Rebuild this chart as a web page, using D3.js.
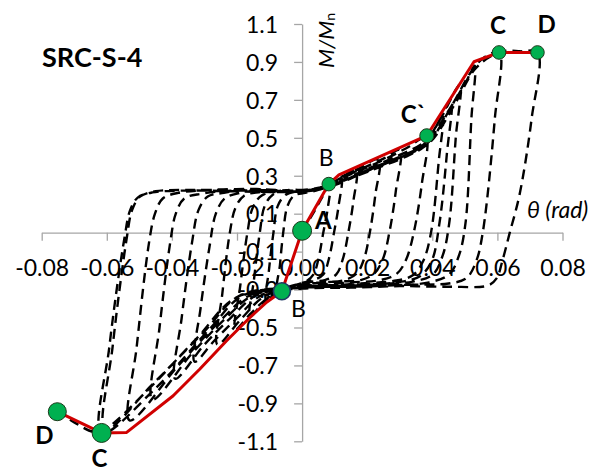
<!DOCTYPE html>
<html>
<head>
<meta charset="utf-8">
<script src="https://cdn.jsdelivr.net/npm/d3@7/dist/d3.min.js"></script>
<style>
  html, body { margin: 0; padding: 0; background: #fff; }
  svg { display: block; }
</style>
</head>
<body>
<svg id="chart" width="592" height="474"></svg>
<script>
// ---- axis ticks ----
const xTickValues = [-0.08, -0.06, -0.04, -0.02, 0, 0.02, 0.04, 0.06, 0.08];
const xTickLabels = ["-0.08", "-0.06", "-0.04", "-0.02", "0.00", "0.02", "0.04", "0.06", "0.08"];
const yTickValues = [1.1, 0.9, 0.7, 0.5, 0.3, 0.1, -0.1, -0.3, -0.5, -0.7, -0.9, -1.1];
const yTickLabels = ["1.1", "0.9", "0.7", "0.5", "0.3", "0.1", "-0.1", "-0.3", "-0.5", "-0.7", "-0.9", "-1.1"];

// ---- backbone (envelope) curve, rotation θ (rad) vs M/Mn ----
const envTheta  = [-0.0752, -0.0616, -0.0539, -0.0396, -0.0314, -0.0232, -0.0165, -0.0109, -0.0062, 0.0, 0.0082, 0.0113, 0.0383, 0.0528, 0.0605, 0.0723];
const envMoment = [-0.944, -1.056, -1.053, -0.860, -0.719, -0.570, -0.455, -0.367, -0.309, 0.01, 0.256, 0.304, 0.511, 0.901, 0.950, 0.950];

// ---- characteristic points on the backbone ----
const keyNames  = ["A", "B", "C`", "C", "D", "B", "C", "D"];
const keyTheta  = [0.0, 0.0082, 0.0383, 0.0605, 0.0723, -0.0062, -0.0616, -0.0752];
const keyMoment = [0.01, 0.256, 0.511, 0.950, 0.950, -0.309, -1.056, -0.944];

// ---- cyclic test record, one array per loading cycle: [θ, M/Mn] ----
const cycle01 = [[0, 0], [0.004, 0.12], [0.0085, 0.245], [0.0078, 0.12], [0.0065, 0], [0.005, -0.14], [0.0035, -0.22], [0.001, -0.26], [-0.003, -0.28], [-0.0075, -0.31], [-0.0068, -0.17], [-0.0058, 0], [-0.0045, 0.14], [-0.0025, 0.195], [0.001, 0.21], [0.005, 0.225]];
const cycle02 = [[0.009, 0.255], [0.012, 0.29], [0.0112, 0.14], [0.0098, 0], [0.0082, -0.14], [0.0065, -0.22], [0.0035, -0.25], [0, -0.265], [-0.004, -0.285], [-0.0075, -0.31], [-0.011, -0.36], [-0.0102, -0.2], [-0.0088, 0], [-0.0075, 0.14], [-0.005, 0.2], [-0.001, 0.22], [0.004, 0.23]];
const cycle03 = [[0.008, 0.25], [0.012, 0.29], [0.0165, 0.33], [0.0157, 0.16], [0.0142, 0], [0.0125, -0.14], [0.0105, -0.22], [0.007, -0.25], [0.002, -0.26], [-0.003, -0.28], [-0.008, -0.31], [-0.012, -0.37], [-0.016, -0.44], [-0.0148, -0.25], [-0.013, 0], [-0.0115, 0.14], [-0.009, 0.2], [-0.004, 0.225], [0.001, 0.225], [0.006, 0.24]];
const cycle04 = [[0.011, 0.285], [0.017, 0.335], [0.0235, 0.385], [0.0225, 0.2], [0.0208, 0], [0.019, -0.14], [0.0168, -0.215], [0.013, -0.25], [0.006, -0.262], [0, -0.272], [-0.006, -0.3], [-0.011, -0.35], [-0.016, -0.43], [-0.0205, -0.51], [-0.019, -0.28], [-0.0168, 0], [-0.0152, 0.13], [-0.0125, 0.195], [-0.007, 0.22], [-0.001, 0.215], [0.005, 0.228]];
const cycle05 = [[0.011, 0.28], [0.018, 0.335], [0.025, 0.39], [0.030, 0.435], [0.0288, 0.22], [0.0268, 0], [0.0248, -0.14], [0.0222, -0.215], [0.018, -0.25], [0.01, -0.258], [0.002, -0.27], [-0.005, -0.295], [-0.012, -0.34], [-0.019, -0.46], [-0.026, -0.59], [-0.0245, -0.32], [-0.0222, 0], [-0.0205, 0.13], [-0.0178, 0.195], [-0.012, 0.215], [-0.005, 0.22], [0.002, 0.218], [0.007, 0.24]];
const cycle06 = [[0.014, 0.3], [0.024, 0.375], [0.032, 0.445], [0.038, 0.50], [0.0368, 0.26], [0.0343, 0], [0.032, -0.14], [0.0292, -0.215], [0.024, -0.25], [0.015, -0.262], [0.005, -0.275], [-0.004, -0.29], [-0.013, -0.335], [-0.02, -0.45], [-0.027, -0.57], [-0.033, -0.68], [-0.0312, -0.4], [-0.0285, -0.08], [-0.0265, 0.1], [-0.0238, 0.18], [-0.019, 0.21], [-0.011, 0.225], [-0.003, 0.215], [0.004, 0.225]];
const cycle07 = [[0.01, 0.26], [0.02, 0.335], [0.03, 0.41], [0.037, 0.47], [0.0405, 0.54], [0.0432, 0.62], [0.042, 0.38], [0.0396, 0], [0.0372, -0.15], [0.034, -0.225], [0.028, -0.255], [0.018, -0.268], [0.008, -0.28], [-0.003, -0.295], [-0.014, -0.33], [-0.022, -0.45], [-0.03, -0.59], [-0.039, -0.77], [-0.037, -0.45], [-0.0338, -0.05], [-0.0318, 0.12], [-0.029, 0.19], [-0.024, 0.21], [-0.015, 0.228], [-0.005, 0.222], [0.003, 0.225]];
const cycle08 = [[0.01, 0.255], [0.02, 0.33], [0.03, 0.4], [0.037, 0.46], [0.0415, 0.57], [0.0458, 0.70], [0.0445, 0.42], [0.0422, 0.05], [0.0398, -0.15], [0.0362, -0.23], [0.03, -0.26], [0.02, -0.275], [0.01, -0.282], [-0.002, -0.29], [-0.015, -0.33], [-0.024, -0.46], [-0.034, -0.64], [-0.046, -0.88], [-0.0438, -0.5], [-0.0405, -0.05], [-0.0388, 0.1], [-0.0362, 0.18], [-0.031, 0.205], [-0.02, 0.222], [-0.008, 0.218], [0.003, 0.222]];
const cycle09 = [[0.01, 0.25], [0.02, 0.325], [0.03, 0.395], [0.0365, 0.45], [0.0425, 0.60], [0.0485, 0.78], [0.0472, 0.5], [0.0452, 0.05], [0.0432, -0.12], [0.0402, -0.22], [0.034, -0.258], [0.024, -0.27], [0.012, -0.275], [-0.002, -0.29], [-0.016, -0.33], [-0.026, -0.48], [-0.038, -0.7], [-0.053, -0.99], [-0.0508, -0.6], [-0.047, -0.05], [-0.0452, 0.1], [-0.0428, 0.18], [-0.038, 0.21], [-0.028, 0.225], [-0.014, 0.23], [-0.002, 0.222], [0.006, 0.24]];
const cycle10 = [[0.012, 0.27], [0.021, 0.33], [0.03, 0.395], [0.0372, 0.45], [0.0445, 0.63], [0.0505, 0.80], [0.053, 0.88], [0.052, 0.6], [0.0502, 0.05], [0.0482, -0.12], [0.0452, -0.22], [0.039, -0.262], [0.028, -0.278], [0.014, -0.285], [0, -0.29], [-0.018, -0.33], [-0.028, -0.5], [-0.045, -0.82], [-0.0616, -1.056], [-0.0592, -0.6], [-0.0545, -0.02], [-0.0528, 0.12], [-0.0505, 0.185], [-0.046, 0.212], [-0.035, 0.222], [-0.02, 0.218], [-0.005, 0.215], [0.006, 0.235]];
const cycle11 = [[0.012, 0.27], [0.022, 0.34], [0.032, 0.41], [0.039, 0.48], [0.046, 0.67], [0.052, 0.85], [0.056, 0.925], [0.0605, 0.95], [0.0592, 0.6], [0.0555, 0], [0.0535, -0.15], [0.0505, -0.24], [0.045, -0.268], [0.032, -0.275], [0.016, -0.285], [0, -0.29], [-0.019, -0.33], [-0.03, -0.52], [-0.046, -0.8], [-0.0605, -1.04], [-0.0582, -0.6], [-0.0538, -0.02], [-0.0522, 0.12], [-0.0498, 0.19], [-0.045, 0.218], [-0.033, 0.225], [-0.018, 0.222], [-0.004, 0.215], [0.007, 0.24]];
const cycle12 = [[0.013, 0.275], [0.023, 0.34], [0.033, 0.41], [0.0395, 0.48], [0.047, 0.68], [0.053, 0.86], [0.058, 0.93], [0.0625, 0.958], [0.067, 0.956], [0.0723, 0.95], [0.0705, 0.6], [0.0668, 0.2], [0.0638, 0], [0.0615, -0.15], [0.0598, -0.24], [0.0572, -0.278], [0.045, -0.285], [0.03, -0.282], [0.015, -0.29], [0, -0.295], [-0.02, -0.34], [-0.032, -0.55], [-0.048, -0.84], [-0.06, -1.03], [-0.064, -1.05], [-0.07, -1.0], [-0.0752, -0.944]];

const cycles = [cycle01, cycle02, cycle03, cycle04, cycle05, cycle06, cycle07, cycle08, cycle09, cycle10, cycle11, cycle12];

// ---- drawing ----
const svg = d3.select("#chart");
const W = 592, H = 474;
const FONT = "Lato, 'Open Sans', sans-serif";
const AXIS_GREY = "#a6a6a6";

const x = d3.scaleLinear().domain([-0.08, 0.08]).range([41.7, 562.5]);
const y = d3.scaleLinear().domain([-1.1, 1.1]).range([441.3, 24]);

svg.append("rect").attr("width", W).attr("height", H).attr("fill", "#fff");

// horizontal axis through M = 0
const gx = svg.append("g")
  .attr("transform", `translate(0,${y(0)})`)
  .call(d3.axisBottom(x)
    .tickValues(xTickValues)
    .tickFormat((d, i) => xTickLabels[i])
    .tickSize(8)
    .tickSizeOuter(0)
    .tickPadding(19));
gx.select(".domain").attr("stroke", AXIS_GREY).attr("stroke-width", 1.3);
gx.selectAll(".tick line").attr("stroke", AXIS_GREY).attr("stroke-width", 1.3);
gx.selectAll(".tick text")
  .attr("font-family", FONT).attr("font-size", 23).attr("fill", "#000");

// vertical axis through θ = 0
const gy = svg.append("g")
  .attr("transform", `translate(${x(0)},0)`)
  .call(d3.axisLeft(y)
    .tickValues(yTickValues)
    .tickFormat((d, i) => yTickLabels[i])
    .tickSize(8)
    .tickSizeOuter(0)
    .tickPadding(16));
gy.select(".domain").attr("stroke", AXIS_GREY).attr("stroke-width", 1.3);
gy.selectAll(".tick line").attr("stroke", AXIS_GREY).attr("stroke-width", 1.3);
gy.selectAll(".tick text")
  .attr("font-family", FONT).attr("font-size", 23).attr("fill", "#000")
  .attr("dy", "0.36em");

// hysteresis record (dashed)
const loopLine = d3.line()
  .x(d => x(d[0]))
  .y(d => y(d[1]))
  .curve(d3.curveCatmullRom.alpha(0.5));
svg.append("path")
  .datum(cycles.flat())
  .attr("d", loopLine)
  .attr("fill", "none")
  .attr("stroke", "#000")
  .attr("stroke-width", 2.4)
  .attr("stroke-dasharray", "10,6")
  .attr("stroke-linejoin", "round");

// backbone curve (red)
const envData = envTheta.map((t, i) => [t, envMoment[i]]);
svg.append("path")
  .datum(envData)
  .attr("d", d3.line().x(d => x(d[0])).y(d => y(d[1])))
  .attr("fill", "none")
  .attr("stroke", "#d00000")
  .attr("stroke-width", 3)
  .attr("stroke-linejoin", "round");

// characteristic points
const keyData = keyNames.map((n, i) => ({ name: n, t: keyTheta[i], m: keyMoment[i], i }));
const markerRadius = [9.5, 6.8, 7, 6.8, 6.8, 8.5, 9.5, 9];
const markerStroke = ["#1a3a1a", "#1a3a1a", "#1a3a1a", "#1a3a1a", "#1a3a1a", "#1f3864", "#1a3a1a", "#1a3a1a"];
svg.append("g").selectAll("circle")
  .data(keyData)
  .join("circle")
  .attr("cx", d => x(d.t))
  .attr("cy", d => y(d.m))
  .attr("r", d => markerRadius[d.i])
  .attr("fill", "#00b050")
  .attr("stroke", d => markerStroke[d.i])
  .attr("stroke-width", d => d.i === 5 ? 1.6 : 1);

// point labels: offset from the marker centre, and weight
const labelOffset = [[13, -2], [-10, -18], [-26, -13], [-9, -18], [0, -19], [9, 26], [-10, 34], [-22, 32]];
const labelBold   = [true, false, true, true, true, false, true, true];
svg.append("g").selectAll("text")
  .data(keyData)
  .join("text")
  .attr("x", d => x(d.t) + labelOffset[d.i][0])
  .attr("y", d => y(d.m) + labelOffset[d.i][1])
  .attr("font-family", FONT)
  .attr("font-size", d => labelBold[d.i] ? 24 : 23)
  .attr("font-weight", d => labelBold[d.i] ? 700 : 400)
  .attr("fill", "#000")
  .text(d => d.name);

// specimen title
svg.append("text")
  .attr("x", 42).attr("y", 66.5)
  .attr("font-family", FONT).attr("font-size", 27).attr("font-weight", 700)
  .attr("fill", "#000")
  .text("SRC-S-4");

// vertical axis title M/Mn
const yTitle = svg.append("text")
  .attr("transform", "translate(334,68) rotate(-90)")
  .attr("font-family", FONT).attr("font-size", 22).attr("font-style", "italic")
  .attr("fill", "#000");
yTitle.append("tspan").text("M/M");
yTitle.append("tspan").attr("font-size", 14).attr("dy", 1).attr("font-style", "normal").text("n");

// horizontal axis title θ (rad)
svg.append("text")
  .attr("x", 527).attr("y", 218)
  .attr("font-family", FONT).attr("font-size", 23).attr("font-style", "italic")
  .attr("fill", "#000")
  .text("θ (rad)");
</script>
</body>
</html>
